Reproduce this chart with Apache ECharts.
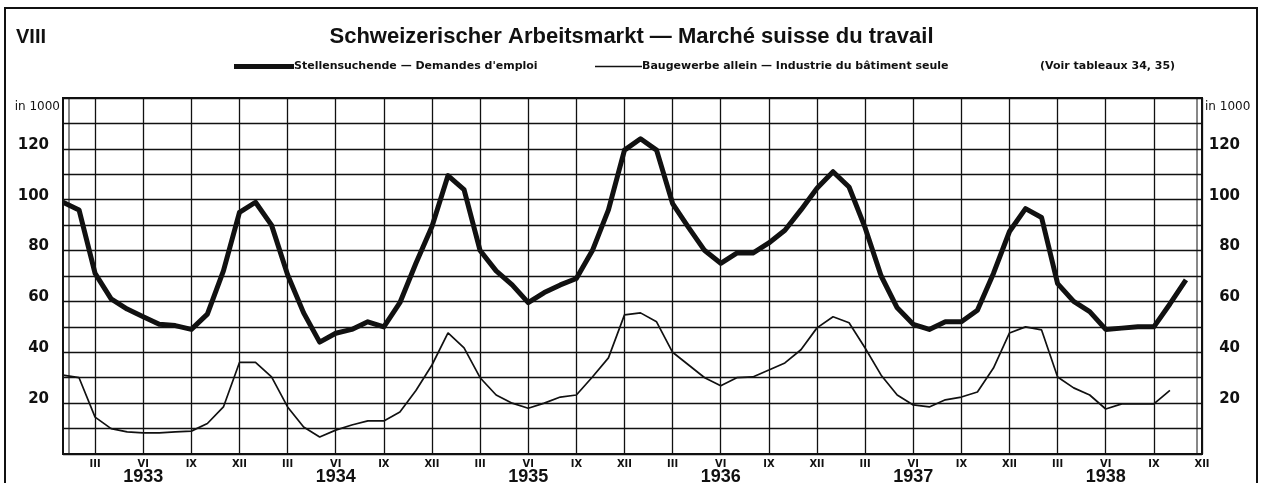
<!DOCTYPE html>
<html>
<head>
<meta charset="utf-8">
<script src="https://cdn.jsdelivr.net/npm/echarts@6/dist/echarts.min.js"></script>
<style>
html,body{margin:0;padding:0;background:#fff;}
#chart{width:1263px;height:483px;}
</style>
</head>
<body>
<div id="chart"></div>
<script>
// ---- data ----
const years = ['1933', '1934', '1935', '1936', '1937', '1938'];
const monthNumerals = ['I', 'II', 'III', 'IV', 'V', 'VI', 'VII', 'VIII', 'IX', 'X', 'XI', 'XII'];
const shownMonths = ['III', 'VI', 'IX', 'XII'];
const yearLabelMonth = 'VI';
const yTickLabels = [20, 40, 60, 80, 100, 120];
const unitLabel = 'in 1000';

const titleText = 'Schweizerischer Arbeitsmarkt — Marché suisse du travail';
const plateText = 'VIII';
const sourceText = '(Voir tableaux 34, 35)';
const nameHeavy = 'Stellensuchende — Demandes d\'emploi';
const nameThin = 'Baugewerbe allein — Industrie du bâtiment seule';

// Stellensuchende (in 1000), monthly Jan 1933 – Dec 1938
const stellensuchende = [
  99, 96, 71, 61, 57, 54, 51, 50.5, 49, 55, 72, 95,
  99, 90, 70.5, 55.5, 44, 47.5, 49, 52, 50, 59.5, 75, 89.5,
  109.5, 104, 80, 72, 66.5, 59.5, 63.5, 66.5, 69, 80, 96, 119.5,
  124, 119.5, 98.5, 89, 80, 75, 79, 79, 83, 88, 96, 104.5,
  111, 105, 89, 70, 57.5, 51, 49, 52, 52, 56.5, 71, 87.5,
  96.5, 93, 67, 60, 56, 49, 49.5, 50, 50, 59, 68.5, null
];
// Baugewerbe allein (in 1000)
const baugewerbe = [
  31, 30, 14.5, 10, 8.7, 8.3, 8.3, 8.7, 9, 12, 18.5, 36,
  36, 30.3, 18.5, 10.6, 6.7, 9.4, 11.4, 13, 13, 16.5, 25, 35,
  47.6, 41.7, 30, 23.2, 20, 18, 20, 22.4, 23.2, 30.3, 37.8, 54.7,
  55.5, 52, 40, 35, 30, 26.8, 30, 30.3, 33, 35.8, 41, 49.6,
  54, 51.6, 41.7, 31, 23.2, 19.3, 18.5, 21.3, 22.4, 24.4, 33.8, 47.6,
  50, 48.8, 30.3, 26, 23.2, 17.7, 19.7, 19.7, 19.7, 25, null, null
];

// ---- build ----
const categories = [];
years.forEach(y => monthNumerals.forEach(m => categories.push(y + '|' + m)));

const isShownMonth = (idx) => shownMonths.indexOf(categories[idx].split('|')[1]) >= 0;

const chart = echarts.init(document.getElementById('chart'), null, {renderer: 'canvas'});

const numFont = '"DejaVu Sans", sans-serif';
const sansFont = '"Liberation Sans", Arial, sans-serif';
const narrowFont = '"Liberation Sans Narrow", "DejaVu Sans Condensed", "Liberation Sans", sans-serif';

function yFormatter(v) {
  if (v === 140) return '{u|' + unitLabel + '}';
  if (yTickLabels.indexOf(v) >= 0) return '{n|' + v + '}';
  return '';
}

const legendText = {fontFamily: numFont, fontSize: 11, fontWeight: 'bold', color: '#111', padding: [0, 0, 0, -5]};

const option = {
  backgroundColor: '#fff',
  animation: false,
  title: [
    {text: titleText, left: 'center', top: 21,
     textStyle: {fontFamily: sansFont, fontSize: 22, fontWeight: 'bold', color: '#111'}},
    {text: plateText, left: 11, top: 22,
     textStyle: {fontFamily: sansFont, fontSize: 20, fontWeight: 'bold', color: '#111'}},
    {text: sourceText, left: 1035, top: 56,
     textStyle: {fontFamily: numFont, fontSize: 11, fontWeight: 'bold', color: '#111'}}
  ],
  legend: [
    {data: [nameHeavy], left: 229, top: 56, itemWidth: 60, itemHeight: 5, icon: 'rect',
     textStyle: legendText, itemStyle: {color: '#111'}},
    {data: [nameThin], left: 590, top: 56, itemWidth: 47, itemHeight: 1.6, icon: 'rect',
     textStyle: legendText, itemStyle: {color: '#111'}}
  ],
  grid: {left: 63, right: 61, top: 98, bottom: 29, show: true, borderColor: '#111', borderWidth: 2,
         backgroundColor: 'transparent', containLabel: false, outerBoundsMode: 'none'},
  xAxis: {
    type: 'category',
    data: categories,
    boundaryGap: false,
    axisLine: {show: false},
    axisTick: {show: false},
    splitLine: {show: true, interval: (i) => isShownMonth(i), lineStyle: {color: '#111', width: 1.3}},
    axisLabel: {
      show: true,
      interval: (i) => isShownMonth(i),
      hideOverlap: false,
      showMaxLabel: true,
      margin: 5,
      formatter: (val) => {
        const p = val.split('|');
        if (p[1] === yearLabelMonth) return '{m|' + p[1] + '}\n{y|' + p[0] + '}';
        return '{m|' + p[1] + '}';
      },
      rich: {
        m: {fontFamily: narrowFont, fontSize: 11, fontWeight: 'bold', color: '#111', lineHeight: 11},
        y: {fontFamily: sansFont, fontSize: 18, fontWeight: 'bold', color: '#111', lineHeight: 15}
      }
    }
  },
  yAxis: [
    {type: 'value', min: 0, max: 140, interval: 10, position: 'left',
     axisLine: {show: false}, axisTick: {show: false},
     splitLine: {show: true, lineStyle: {color: '#111', width: 1.3}},
     axisLabel: {show: true, align: 'right', margin: 3, formatter: yFormatter, showMaxLabel: true,
       rich: {
         n: {fontFamily: numFont, fontSize: 15, fontWeight: 'bold', color: '#111', padding: [0, 11, 8, 0]},
         u: {fontFamily: numFont, fontSize: 12, color: '#111', padding: [18, 0, 0, 0]}
       }}},
    {type: 'value', min: 0, max: 140, interval: 10, position: 'right',
     axisLine: {show: false}, axisTick: {show: false}, splitLine: {show: false},
     axisLabel: {show: true, align: 'left', margin: 3, formatter: yFormatter, showMaxLabel: true,
       rich: {
         n: {fontFamily: numFont, fontSize: 15, fontWeight: 'bold', color: '#111', width: 35, align: 'right', padding: [0, 0, 8, 0]},
         u: {fontFamily: numFont, fontSize: 12, color: '#111', padding: [18, 0, 0, 0]}
       }}}
  ],
  series: [
    {name: nameHeavy, type: 'line', data: stellensuchende, symbol: 'none', connectNulls: false,
     lineStyle: {color: '#111', width: 5, join: 'round'}, itemStyle: {color: '#111'}, z: 5},
    {name: nameThin, type: 'line', data: baugewerbe, symbol: 'none', connectNulls: false,
     lineStyle: {color: '#111', width: 1.7}, itemStyle: {color: '#111'}, z: 4}
  ],
  graphic: [
    {type: 'rect', shape: {x: 5, y: 8, width: 1252, height: 490}, style: {fill: 'none', stroke: '#111', lineWidth: 2}, silent: true},
    {type: 'line', shape: {x1: 69, y1: 98, x2: 69, y2: 454}, style: {stroke: '#111', lineWidth: 1}, silent: true},
    {type: 'line', shape: {x1: 1197, y1: 98, x2: 1197, y2: 454}, style: {stroke: '#111', lineWidth: 1}, silent: true}
  ]
};

chart.setOption(option);
</script>
</body>
</html>
